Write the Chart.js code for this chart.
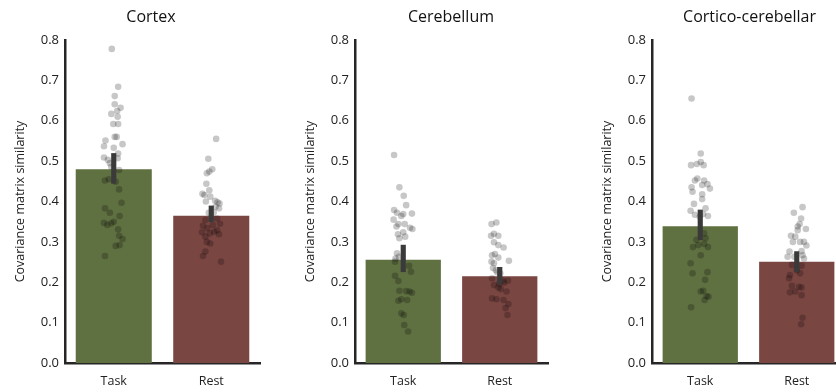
<!DOCTYPE html>
<html>
<head>
<meta charset="utf-8">
<script src="https://cdn.jsdelivr.net/npm/chart.js@4.4.0/dist/chart.umd.min.js"></script>
<style>
  body { margin: 0; background: #fff; }
  #wrap { position: relative; width: 836px; height: 392px; overflow: hidden; }
  canvas { position: absolute; top: 0; }
</style>
</head>
<body>
<div id="wrap">
  <canvas id="chartCortex" width="284" height="392" style="left:9px"></canvas>
  <canvas id="chartCerebellum" width="304" height="392" style="left:299px"></canvas>
  <canvas id="chartCortico" width="307" height="392" style="left:596px"></canvas>
</div>
<script>
var categories = ["Task", "Rest"];
var yTicks = [0.0, 0.1, 0.2, 0.3, 0.4, 0.5, 0.6, 0.7, 0.8];

// Cortex
var cortexMeans = [0.48, 0.365];
var cortexCI = [[0.445, 0.519], [0.350, 0.389]];
var cortexTask = [0.778, 0.684, 0.661, 0.641, 0.632, 0.624, 0.617, 0.610, 0.592, 0.592, 0.560, 0.560, 0.551, 0.542, 0.537, 0.533, 0.519, 0.509, 0.503, 0.495, 0.507, 0.486, 0.478, 0.452, 0.455, 0.449, 0.430, 0.397, 0.383, 0.372, 0.364, 0.347, 0.342, 0.346, 0.350, 0.331, 0.315, 0.307, 0.290, 0.292, 0.265];
var cortexTaskJitter = [-0.02, 0.045, 0.01, 0.01, 0.07, 0.035, -0.025, 0.04, -0.005, 0.045, 0.03, 0.01, -0.085, 0.09, -0.10, 0.0, 0.045, -0.10, -0.06, -0.04, 0.04, -0.025, 0.055, -0.09, -0.05, 0.02, 0.055, 0.08, -0.09, -0.04, 0.06, -0.10, -0.065, -0.025, 0.0, 0.045, 0.055, 0.09, 0.02, 0.06, -0.09];
var cortexRest = [0.555, 0.506, 0.480, 0.474, 0.470, 0.444, 0.428, 0.419, 0.416, 0.412, 0.400, 0.402, 0.398, 0.395, 0.383, 0.387, 0.373, 0.372, 0.358, 0.354, 0.345, 0.342, 0.340, 0.334, 0.329, 0.325, 0.324, 0.319, 0.313, 0.321, 0.300, 0.296, 0.276, 0.265, 0.251];
var cortexRestJitter = [0.05, -0.03, 0.01, -0.02, -0.045, -0.05, -0.02, -0.09, -0.07, -0.01, -0.055, 0.04, 0.065, 0.085, 0.08, 0.045, 0.025, -0.025, 0.06, -0.06, 0.09, 0.015, -0.085, -0.04, 0.06, 0.03, -0.095, 0.08, -0.06, -0.015, -0.045, -0.01, -0.06, -0.085, 0.10];

// Cerebellum
var cerebMeans = [0.256, 0.215];
var cerebCI = [[0.226, 0.292], [0.196, 0.237]];
var cerebTask = [0.515, 0.435, 0.414, 0.391, 0.379, 0.372, 0.369, 0.370, 0.364, 0.355, 0.344, 0.344, 0.338, 0.335, 0.332, 0.319, 0.324, 0.313, 0.309, 0.272, 0.263, 0.259, 0.251, 0.241, 0.226, 0.216, 0.203, 0.179, 0.178, 0.177, 0.174, 0.154, 0.158, 0.156, 0.123, 0.119, 0.094, 0.078];
var cerebTaskJitter = [-0.095, -0.04, 0.005, 0.03, -0.095, -0.065, 0.0, 0.09, -0.02, -0.10, -0.05, 0.015, -0.07, 0.07, 0.095, -0.055, 0.0, 0.02, -0.04, -0.065, -0.045, -0.08, -0.085, 0.06, 0.08, -0.085, -0.05, -0.04, 0.03, 0.065, 0.09, -0.05, -0.02, 0.04, -0.02, 0.005, 0.01, 0.05];
var cerebRest = [0.344, 0.348, 0.315, 0.320, 0.315, 0.299, 0.292, 0.286, 0.267, 0.270, 0.261, 0.253, 0.251, 0.247, 0.235, 0.230, 0.224, 0.222, 0.210, 0.204, 0.193, 0.187, 0.183, 0.199, 0.177, 0.160, 0.158, 0.156, 0.146, 0.136, 0.119, 0.204, 0.196];
var cerebRestJitter = [-0.085, -0.035, -0.09, -0.06, -0.015, -0.06, -0.015, 0.04, -0.08, -0.05, -0.015, 0.095, -0.085, -0.06, -0.07, -0.04, -0.025, 0.005, -0.08, 0.085, -0.06, -0.015, 0.01, 0.045, 0.07, -0.08, -0.035, 0.04, 0.09, 0.06, 0.08, 0.03, -0.005];

// Cortico-cerebellar
var corticoMeans = [0.339, 0.251];
var corticoCI = [[0.305, 0.379], [0.226, 0.276]];
var corticoTask = [0.655, 0.519, 0.490, 0.493, 0.498, 0.490, 0.457, 0.452, 0.452, 0.443, 0.441, 0.435, 0.424, 0.432, 0.418, 0.406, 0.394, 0.377, 0.383, 0.367, 0.369, 0.364, 0.362, 0.321, 0.309, 0.305, 0.295, 0.292, 0.287, 0.287, 0.267, 0.247, 0.222, 0.225, 0.206, 0.177, 0.179, 0.166, 0.164, 0.156, 0.138];
var corticoTaskJitter = [-0.09, 0.005, -0.095, -0.035, 0.005, 0.035, -0.03, -0.055, 0.04, 0.075, 0.02, -0.09, -0.08, 0.10, 0.02, 0.02, -0.065, -0.10, 0.055, -0.055, 0.03, 0.08, -0.005, 0.04, 0.055, -0.04, 0.04, -0.02, -0.075, 0.08, 0.005, -0.10, -0.08, 0.075, 0.05, 0.005, 0.03, 0.065, 0.085, 0.045, -0.095];
var corticoRest = [0.386, 0.372, 0.358, 0.344, 0.338, 0.332, 0.329, 0.315, 0.313, 0.300, 0.300, 0.300, 0.291, 0.276, 0.277, 0.263, 0.263, 0.267, 0.259, 0.243, 0.241, 0.230, 0.218, 0.222, 0.210, 0.191, 0.189, 0.187, 0.177, 0.175, 0.168, 0.112, 0.096];
var corticoRestJitter = [0.06, -0.03, 0.045, 0.03, 0.01, 0.095, 0.01, -0.06, -0.015, -0.04, 0.035, 0.075, 0.10, -0.075, 0.05, -0.095, -0.025, 0.06, 0.075, -0.05, 0.05, 0.0, -0.07, 0.035, -0.08, -0.05, 0.025, 0.05, -0.015, -0.07, 0.05, 0.06, 0.045];

var barColors = ["#5f7041", "#7a4642"];
var fontFamily = "'Open Sans', sans-serif";

function drawPanel(id, title, means, ci, task, taskJitter, rest, restJitter, rightGap) {
    var points = [];
    task.forEach(function (v, i) { points.push({ x: 0 + taskJitter[i], y: v }); });
    rest.forEach(function (v, i) { points.push({ x: 1 + restJitter[i], y: v }); });

    var ctx = document.getElementById(id).getContext("2d");
    return new Chart(ctx, {
        type: "bar",
        data: {
            datasets: [
                {
                    type: "bar",
                    data: means.map(function (m, i) { return { x: i, y: m }; }),
                    backgroundColor: barColors,
                    barPercentage: 0.78,
                    categoryPercentage: 1,
                    grouped: false,
                    order: 3
                },
                {
                    type: "scatter",
                    data: points,
                    pointRadius: 3.3,
                    pointBackgroundColor: "rgba(0,0,0,0.22)",
                    pointBorderWidth: 0,
                    order: 2
                },
                {
                    type: "bar",
                    data: ci.map(function (c, i) { return { x: i, y: c }; }),
                    backgroundColor: "#3a3a3a",
                    barThickness: 4.5,
                    grouped: false,
                    order: 1
                }
            ]
        },
        options: {
            responsive: false,
            animation: false,
            layout: { padding: { left: 0, right: 0, top: 0, bottom: 3 } },
            plugins: {
                legend: { display: false },
                tooltip: { enabled: false },
                title: {
                    display: true,
                    text: title,
                    fullSize: true,
                    color: "#111",
                    font: { family: fontFamily, size: 16, weight: "normal" },
                    padding: { top: 8, bottom: 12.8 }
                }
            },
            scales: {
                x: {
                    type: "linear",
                    min: -0.5,
                    max: 1.5,
                    offset: false,
                    afterBuildTicks: function (axis) {
                        axis.ticks = categories.map(function (c, i) { return { value: i }; });
                    },
                    afterFit: function (scale) { scale.height = 26; },
                    ticks: {
                        callback: function (v) { return categories[v]; },
                        color: "#222",
                        font: { family: fontFamily, size: 12.5 },
                        padding: 11,
                        maxRotation: 0,
                        autoSkip: false
                    },
                    grid: { display: false, drawTicks: false },
                    border: { color: "#262626", width: 2.5 }
                },
                y: {
                    min: 0,
                    max: 0.8,
                    afterBuildTicks: function (axis) {
                        axis.ticks = yTicks.map(function (v) { return { value: v }; });
                    },
                    afterFit: function (scale) { scale.width = 56; },
                    ticks: {
                        callback: function (v) { return v.toFixed(1); },
                        color: "#222",
                        font: { family: fontFamily, size: 13 },
                        padding: 6
                    },
                    title: {
                        display: true,
                        text: "Covariance matrix similarity",
                        color: "#222",
                        font: { family: fontFamily, size: 12.5 }
                    },
                    grid: { display: false, drawTicks: false },
                    border: { color: "#262626", width: 2.5 }
                },
                y2: {
                    type: "linear",
                    position: "right",
                    afterFit: function (scale) { scale.width = rightGap; },
                    ticks: { display: false },
                    grid: { display: false, drawTicks: false },
                    border: { display: false }
                }
            }
        }
    });
}

var cortexChart = drawPanel("chartCortex", "Cortex", cortexMeans, cortexCI, cortexTask, cortexTaskJitter, cortexRest, cortexRestJitter, 33);
var cerebChart = drawPanel("chartCerebellum", "Cerebellum", cerebMeans, cerebCI, cerebTask, cerebTaskJitter, cerebRest, cerebRestJitter, 55);
var corticoChart = drawPanel("chartCortico", "Cortico-cerebellar", corticoMeans, corticoCI, corticoTask, corticoTaskJitter, corticoRest, corticoRestJitter, 58);
</script>
</body>
</html>
